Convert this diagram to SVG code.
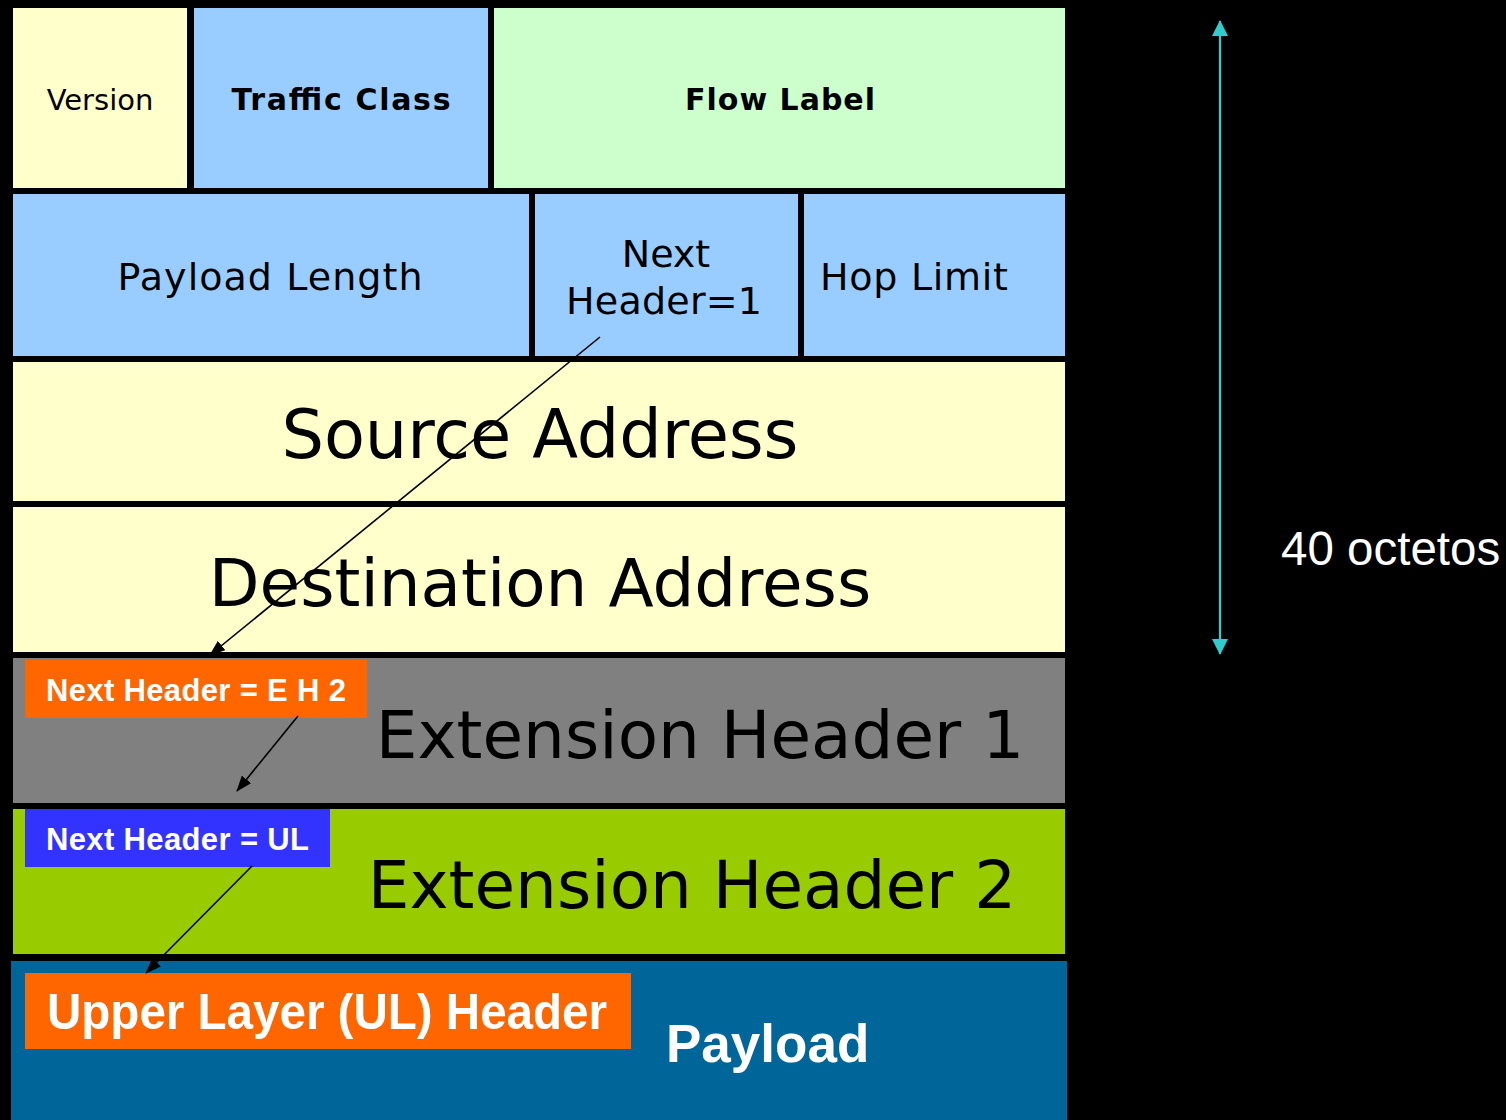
<svg xmlns="http://www.w3.org/2000/svg" width="1506" height="1120" viewBox="0 0 1506 1120">
<style>
.v{font-family:"DejaVu Sans","Verdana",sans-serif;fill:#000}
.a{font-family:"Liberation Sans",Arial,sans-serif;fill:#fff;font-weight:bold}
.c{stroke:#000;stroke-width:1.6;fill:none}
</style>
<defs>
<marker id="ah" viewBox="0 0 16 12" markerWidth="16" markerHeight="12" refX="15" refY="6" orient="auto" markerUnits="userSpaceOnUse">
<path d="M0,0 L16,6 L0,12 z" fill="#000"/>
</marker>
<marker id="ch" viewBox="0 0 16 16" markerWidth="16" markerHeight="16" refX="15" refY="8" orient="auto-start-reverse" markerUnits="userSpaceOnUse">
<path d="M0,0 L16,8 L0,16 z" fill="#33CCCC"/>
</marker>
</defs>
<rect x="0" y="0" width="1506" height="1120" fill="#000"/>
<g id="version"><rect x="13" y="8" width="174" height="180" fill="#FFFFCC"/><text class="v" x="100" y="110" font-size="29" text-anchor="middle">Version</text></g>
<g id="traffic-class"><rect x="194" y="8" width="294" height="180" fill="#99CCFF"/><text class="v" x="341" y="110" font-size="30" font-weight="bold" text-anchor="middle" textLength="219" lengthAdjust="spacing">Traffic Class</text></g>
<g id="flow-label"><rect x="494" y="8" width="571" height="180" fill="#CCFFCC"/><text class="v" x="780" y="110" font-size="30" font-weight="bold" text-anchor="middle" textLength="190" lengthAdjust="spacing">Flow Label</text></g>
<g id="payload-length"><rect x="13" y="194" width="516" height="162" fill="#99CCFF"/><text class="v" x="270" y="290" font-size="38" text-anchor="middle" textLength="305" lengthAdjust="spacing">Payload Length</text></g>
<g id="next-header"><rect x="535" y="194" width="263" height="162" fill="#99CCFF"/><text class="v" x="666" y="267" font-size="38" text-anchor="middle">Next</text><text class="v" x="664" y="314" font-size="38" text-anchor="middle" textLength="196" lengthAdjust="spacing">Header=1</text></g>
<g id="hop-limit"><rect x="804" y="194" width="261" height="162" fill="#99CCFF"/><text class="v" x="820" y="290" font-size="38" textLength="188" lengthAdjust="spacing">Hop Limit</text></g>
<g id="source-address"><rect x="13" y="362" width="1052" height="139" fill="#FFFFCC"/><text class="v" x="540" y="458" font-size="67" text-anchor="middle" textLength="517" lengthAdjust="spacing">Source Address</text></g>
<g id="destination-address"><rect x="13" y="507" width="1052" height="145" fill="#FFFFCC"/><text class="v" x="540" y="606" font-size="66" text-anchor="middle">Destination Address</text></g>
<g id="extension-header-1"><rect x="13" y="658" width="1052" height="145" fill="#808080"/><text class="v" x="700" y="758" font-size="66" text-anchor="middle">Extension Header 1</text>
<rect x="25" y="660" width="342" height="58" fill="#FF6600"/><text class="a" x="46" y="701" font-size="31" textLength="300" lengthAdjust="spacing">Next Header = E H 2</text></g>
<g id="extension-header-2"><rect x="13" y="809" width="1052" height="145" fill="#99CC00"/><text class="v" x="692" y="908" font-size="66" text-anchor="middle">Extension Header 2</text>
<rect x="25" y="809" width="305" height="58" fill="#3333FF"/><text class="a" x="46" y="850" font-size="31" textLength="263" lengthAdjust="spacing">Next Header = UL</text></g>
<g id="payload"><rect x="11" y="961" width="1056" height="159" fill="#006699"/>
<rect x="25" y="973" width="606" height="76" fill="#FF6600"/><text class="a" x="47" y="1029" font-size="50" textLength="560" lengthAdjust="spacingAndGlyphs">Upper Layer (UL) Header</text>
<text class="a" x="666" y="1062" font-size="53">Payload</text></g>
<g id="size-label"><text x="1281" y="565" font-family="'Liberation Sans',Arial,sans-serif" font-size="47.5" fill="#fff">40 octetos</text></g>
<g id="connectors">
<line class="c" x1="600" y1="337" x2="210" y2="655" marker-end="url(#ah)"/>
<line class="c" x1="298" y1="716" x2="237" y2="791" marker-end="url(#ah)"/>
<line class="c" x1="252" y1="866" x2="146" y2="973" marker-end="url(#ah)"/>
<line x1="1220" y1="21" x2="1220" y2="654" stroke="#33CCCC" stroke-width="2.2" marker-start="url(#ch)" marker-end="url(#ch)"/>
</g>
</svg>
